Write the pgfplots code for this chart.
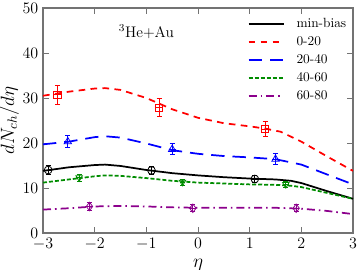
\documentclass[border=0pt]{standalone}
\usepackage{pgfplots}
\pgfplotsset{compat=1.18}
\definecolor{mygreen}{rgb}{0.0,0.55,0.0}
\definecolor{mypurple}{rgb}{0.55,0.0,0.55}
\pgfplotsset{
  errstyle/.style={forget plot, error bars/.cd, y dir=both, y explicit, error bar style={line width=0.6pt, solid}, error mark options={rotate=90, mark size=1.9pt, line width=0.6pt, solid}},
}
\begin{document}
\begin{tikzpicture}
\begin{axis}[
  scale only axis,
  width=232.5pt, height=168.75pt,
  xmin=-3, xmax=3, ymin=0, ymax=50,
  xtick={-3,-2,-1,0,1,2,3},
  ytick={0,10,20,30,40,50},
  tick align=inside,
  axis line style={black!55, line width=0.8pt},
  major tick style={black!55, line width=0.6pt},
  tick label style={font=\large},
  xlabel={$\eta$}, ylabel={$dN_{ch}/d\eta$},
  label style={font=\Large},
  ylabel style={yshift=-4pt},
  xlabel style={yshift=-0.5pt},
  legend style={draw=none, fill=none, inner sep=0pt, at={(axis cs:0.96,48.3)}, anchor=north west, font=\normalsize, row sep=1.2pt, column sep=7pt},
  legend cell align=left,
]
\coordinate (O) at (rel axis cs:0,0);
\addlegendimage{black, line width=1.3pt, legend image code/.code={\draw[black, line width=1.3pt] (0cm,0cm) -- (0.92cm,0cm);}}
\addlegendentry{min-bias}
\addlegendimage{red, line width=1.3pt, legend image code/.code={\draw[red, line width=1.3pt, dash pattern=on 5pt off 4pt] (0cm,0cm) -- (0.92cm,0cm);}}
\addlegendentry{0-20}
\addlegendimage{blue, line width=1.3pt, legend image code/.code={\draw[blue, line width=1.3pt, dash pattern=on 10pt off 6pt] (0cm,0cm) -- (0.92cm,0cm);}}
\addlegendentry{20-40}
\addlegendimage{mygreen, line width=1.3pt, legend image code/.code={\draw[mygreen, line width=1.3pt, dash pattern=on 3pt off 1.5pt] (0cm,0cm) -- (0.92cm,0cm);}}
\addlegendentry{40-60}
\addlegendimage{mypurple, line width=1.3pt, legend image code/.code={\draw[mypurple, line width=1.3pt, dash pattern=on 6pt off 3pt on 1.2pt off 3pt] (0cm,0cm) -- (0.92cm,0cm);}}
\addlegendentry{60-80}
\addplot[black, line width=1.3pt, forget plot] coordinates {(-3,13.8)(-2.5,14.6)(-2,15.1)(-1.8,15.2)(-1.5,14.9)(-1,14.0)(-0.5,13.3)(0,12.8)(0.5,12.4)(1,12.1)(1.5,11.9)(1.8,11.6)(2,11.1)(2.5,9.3)(3,7.6)};
\addplot[red, line width=1.3pt, dash pattern=on 5pt off 4pt, forget plot] coordinates {(-3,30.5)(-2.5,31.4)(-2,32.1)(-1.8,32.2)(-1.5,31.8)(-1,30.0)(-0.5,27.5)(0,25.6)(0.5,24.4)(1,23.7)(1.3,23.2)(1.6,22.5)(2,20.3)(2.5,17.0)(3,13.8)};
\addplot[blue, line width=1.3pt, dash pattern=on 10pt off 6pt, forget plot] coordinates {(-3,19.7)(-2.5,20.3)(-2,21.3)(-1.8,21.5)(-1.5,21.2)(-1,19.9)(-0.5,18.4)(0,17.6)(0.5,17.1)(1,16.8)(1.5,16.4)(2,15.2)(2.5,13.0)(3,10.8)};
\addplot[mygreen, line width=1.3pt, dash pattern=on 3pt off 1.5pt, forget plot] coordinates {(-3,11.2)(-2.5,11.9)(-2,12.6)(-1.8,12.8)(-1.5,12.7)(-1,12.2)(-0.5,11.6)(0,11.2)(0.5,11.0)(1,10.8)(1.5,10.7)(1.8,10.5)(2,10.2)(2.5,8.9)(3,7.6)};
\addplot[mypurple, line width=1.3pt, dash pattern=on 6pt off 3pt on 1.2pt off 3pt, forget plot] coordinates {(-3,5.2)(-2.5,5.5)(-2,5.9)(-1.5,6.0)(-1,5.9)(-0.5,5.7)(0,5.6)(0.5,5.6)(1,5.6)(1.5,5.6)(2,5.4)(2.5,4.9)(3,4.2)};
% data points
\addplot[red, only marks, mark=square, mark size=2.7pt, mark options={solid, line width=0.6pt}, errstyle]
  coordinates {(-2.72,30.7) +- (0,2.2) (-0.75,27.8) +- (0,2.0) (1.3,23.1) +- (0,1.6)};
\addplot[red, only marks, mark=-, mark size=2.7pt, mark options={solid, line width=0.6pt}, forget plot]
  coordinates {(-2.72,30.7) (-0.75,27.8) (1.3,23.1)};
\addplot[blue, only marks, mark=triangle, mark size=3.2pt, mark options={solid, line width=0.6pt}, errstyle]
  coordinates {(-2.52,20.3) +- (0,1.3) (-0.5,18.6) +- (0,1.2) (1.5,16.4) +- (0,1.2)};
\addplot[blue, only marks, mark=-, mark size=2.5pt, mark options={solid, line width=0.6pt}, forget plot]
  coordinates {(-2.52,20.3) (-0.5,18.6) (1.5,16.4)};
\addplot[black, only marks, mark=o, mark size=2.9pt, mark options={solid, line width=0.6pt}, errstyle]
  coordinates {(-2.9,14.0) +- (0,1.0) (-0.9,13.9) +- (0,0.9) (1.1,12.0) +- (0,0.8)};
\addplot[black, only marks, mark=-, mark size=2.9pt, mark options={solid, line width=0.6pt}, forget plot]
  coordinates {(-2.9,14.0) (-0.9,13.9) (1.1,12.0)};
\addplot[mygreen, only marks, mark=triangle, mark size=2.8pt, mark options={solid, rotate=180, line width=0.6pt}, errstyle]
  coordinates {(-2.3,12.3) +- (0,0.8) (-0.3,11.3) +- (0,0.7) (1.7,10.8) +- (0,0.7)};
\addplot[mygreen, only marks, mark=-, mark size=2.2pt, mark options={solid, line width=0.6pt}, forget plot]
  coordinates {(-2.3,12.3) (-0.3,11.3) (1.7,10.8)};
\addplot[mypurple, only marks, mark=diamond, mark size=3.2pt, mark options={solid, line width=0.6pt}, errstyle]
  coordinates {(-2.1,5.9) +- (0,0.9) (-0.1,5.5) +- (0,0.8) (1.9,5.5) +- (0,0.8)};
\addplot[mypurple, only marks, mark=-, mark size=2.0pt, mark options={solid, line width=0.6pt}, forget plot]
  coordinates {(-2.1,5.9) (-0.1,5.5) (1.9,5.5)};
\node[font=\fontsize{11.5}{13}\selectfont] at (axis cs:-1.0,44.7) {$^{3}$He+Au};
\end{axis}
\pgfresetboundingbox
\path ([shift={(-32.25pt,-27.75pt)}]O) rectangle ++(270pt,202.5pt);
\end{tikzpicture}
\end{document}
